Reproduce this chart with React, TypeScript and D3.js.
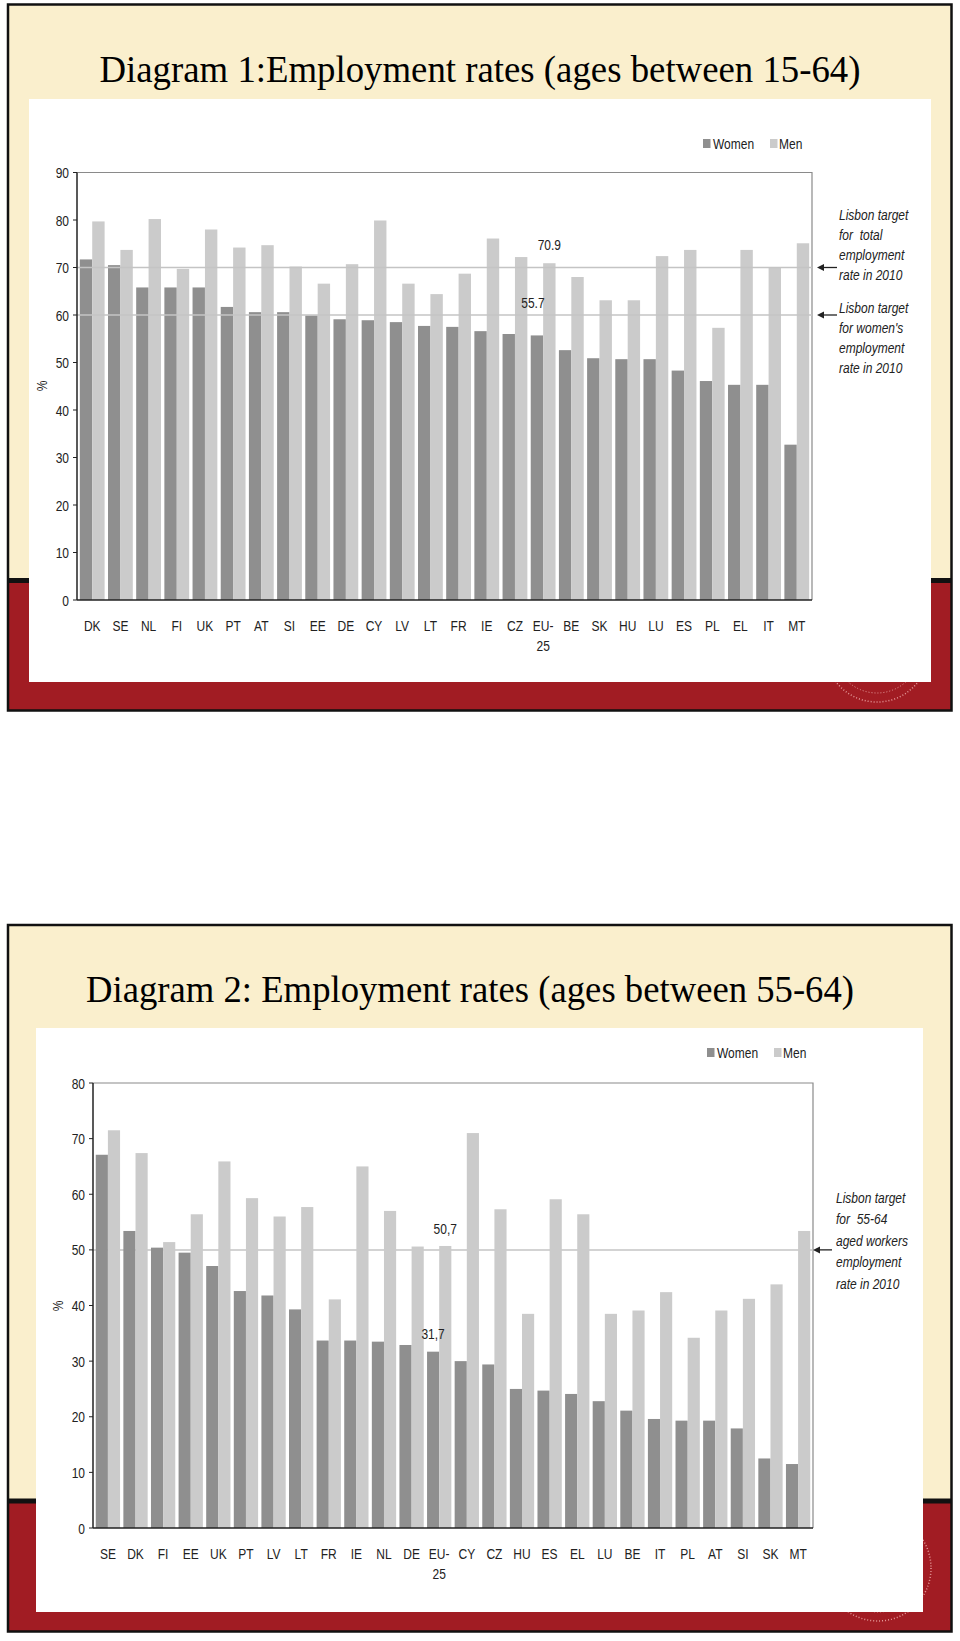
import * as d3 from "d3";
import type { ReactNode } from "react";

// ---- data: diagram 1 (ages 15-64) ----
const categories1 = ["DK", "SE", "NL", "FI", "UK", "PT", "AT", "SI", "EE", "DE", "CY", "LV", "LT", "FR", "IE", "CZ", "EU-25", "BE", "SK", "HU", "LU", "ES", "PL", "EL", "IT", "MT"];
const women1 = [71.7, 70.5, 65.8, 65.8, 65.8, 61.7, 60.6, 60.6, 59.9, 59.1, 58.9, 58.5, 57.7, 57.5, 56.6, 56.0, 55.7, 52.6, 50.9, 50.7, 50.7, 48.3, 46.1, 45.3, 45.3, 32.7];
const men1 = [79.7, 73.7, 80.2, 69.7, 78.0, 74.2, 74.7, 70.2, 66.6, 70.7, 79.9, 66.6, 64.4, 68.7, 76.1, 72.2, 70.9, 68.0, 63.1, 63.1, 72.4, 73.7, 57.3, 73.7, 70.1, 75.1];
const ticks1 = [0, 10, 20, 30, 40, 50, 60, 70, 80, 90];

// ---- data: diagram 2 (ages 55-64) ----
const categories2 = ["SE", "DK", "FI", "EE", "UK", "PT", "LV", "LT", "FR", "IE", "NL", "DE", "EU-25", "CY", "CZ", "HU", "ES", "EL", "LU", "BE", "IT", "PL", "AT", "SI", "SK", "MT"];
const women2 = [67.1, 53.4, 50.4, 49.5, 47.1, 42.6, 41.8, 39.3, 33.7, 33.7, 33.5, 32.9, 31.7, 30.0, 29.4, 25.0, 24.7, 24.1, 22.8, 21.1, 19.6, 19.3, 19.3, 17.9, 12.5, 11.5];
const men2 = [71.5, 67.4, 51.4, 56.4, 65.9, 59.3, 56.0, 57.7, 41.1, 65.0, 57.0, 50.6, 50.7, 71.0, 57.3, 38.5, 59.1, 56.4, 38.5, 39.1, 42.4, 34.2, 39.1, 41.2, 43.8, 53.4];
const ticks2 = [0, 10, 20, 30, 40, 50, 60, 70, 80];

const WOMEN = "#8f8f8f";
const MEN = "#cbcbcb";
const RED = "#a11c23";
const CREAM = "#faefcd";
const SANS = "'Liberation Sans', Arial, sans-serif";
const SERIF = "'Liberation Serif', 'Times New Roman', serif";
const SQUEEZE = 0.8; // fake the narrow Arial used in the original chart

interface Target {
  value: number;
  lines: string[];
  dy: number; // first baseline relative to target line
}

interface ValueLabel {
  category: string;
  series: "women" | "men";
  text: string;
  above: number;
  shift: number;
}

interface SlideCfg {
  title: string;
  titleX: number;
  titleY: number;
  titleLen: number;
  frame: { x: number; y: number; w: number; h: number; redTop: number };
  panel: { x: number; y: number; w: number; h: number };
  plot: { left: number; right: number; top: number; bottom: number };
  seal: { cx: number; cy: number; r: number };
  categories: string[];
  women: number[];
  men: number[];
  ticks: number[];
  targets: Target[];
  lineSpacing: number;
  arrow: { from: number; to: number; textX: number };
  linesOnTop: boolean;
  labels: ValueLabel[];
  legend: { x: number; y: number };
  percent: { x: number; y: number };
}

const slide1: SlideCfg = {
  title: "Diagram 1:Employment rates (ages between 15-64)",
  titleX: 480,
  titleY: 82,
  titleLen: 761,
  frame: { x: 8, y: 4.5, w: 943.5, h: 706, redTop: 580.5 },
  panel: { x: 29, y: 99, w: 902, h: 583 },
  plot: { left: 77, right: 812, top: 172.5, bottom: 600 },
  seal: { cx: 877, cy: 650, r: 52 },
  categories: categories1,
  women: women1,
  men: men1,
  ticks: ticks1,
  targets: [
    { value: 70, lines: ["Lisbon target", "for  total", "employment", "rate in 2010"], dy: -47.5 },
    { value: 60, lines: ["Lisbon target", "for women's", "employment", "rate in 2010"], dy: -2 },
  ],
  lineSpacing: 20,
  arrow: { from: 25, to: 5, textX: 27 },
  linesOnTop: true,
  labels: [
    { category: "EU-25", series: "men", text: "70.9", above: 13, shift: 0 },
    { category: "EU-25", series: "women", text: "55.7", above: 27, shift: -4 },
  ],
  legend: { x: 703, y: 139 },
  percent: { x: 42, y: 386 },
};

const slide2: SlideCfg = {
  title: "Diagram 2: Employment rates (ages between 55-64)",
  titleX: 470,
  titleY: 1002,
  titleLen: 768,
  frame: { x: 8, y: 925, w: 943.5, h: 706.5, redTop: 1501 },
  panel: { x: 36, y: 1028, w: 887, h: 584 },
  plot: { left: 93, right: 813, top: 1083, bottom: 1528 },
  seal: { cx: 878, cy: 1568, r: 53 },
  categories: categories2,
  women: women2,
  men: men2,
  ticks: ticks2,
  targets: [
    { value: 50, lines: ["Lisbon target", "for  55-64", "aged workers", "employment", "rate in 2010"], dy: -47 },
  ],
  lineSpacing: 21.5,
  arrow: { from: 19, to: 0, textX: 23 },
  linesOnTop: false,
  labels: [
    { category: "EU-25", series: "men", text: "50,7", above: 12, shift: 0 },
    { category: "EU-25", series: "women", text: "31,7", above: 13, shift: 0 },
  ],
  legend: { x: 707, y: 1048 },
  percent: { x: 58, y: 1306 },
};

// narrow text: translate to the anchor point, then squeeze horizontally
function NText({
  x,
  y,
  anchor = "start",
  italic = false,
  rotate = 0,
  children,
}: {
  x: number;
  y: number;
  anchor?: "start" | "middle" | "end";
  italic?: boolean;
  rotate?: number;
  children: ReactNode;
}) {
  return (
    <text
      transform={`translate(${x},${y}) rotate(${rotate}) scale(${SQUEEZE},1)`}
      textAnchor={anchor}
      fontFamily={SANS}
      fontSize={15}
      fontStyle={italic ? "italic" : "normal"}
      fill="#222"
      style={{ whiteSpace: "pre" }}
    >
      {children}
    </text>
  );
}

function Slide({ cfg }: { cfg: SlideCfg }) {
  const { frame, panel, plot, seal } = cfg;
  const x = d3
    .scaleBand<string>()
    .domain(cfg.categories)
    .range([plot.left, plot.right])
    .paddingInner(0.12)
    .paddingOuter(0.1);
  const y = d3
    .scaleLinear()
    .domain([0, cfg.ticks[cfg.ticks.length - 1]])
    .range([plot.bottom, plot.top]);
  const half = x.bandwidth() / 2;

  const targetLines = cfg.targets.map((t) => (
    <line
      key={"t" + t.value}
      x1={plot.left}
      x2={plot.right}
      y1={y(t.value)}
      y2={y(t.value)}
      stroke="#c4c4c4"
      strokeWidth={1.5}
    />
  ));

  return (
    <g>
      {/* slide frame */}
      <rect x={frame.x} y={frame.y} width={frame.w} height={frame.h} fill={CREAM} />
      <rect x={frame.x} y={frame.redTop} width={frame.w} height={frame.y + frame.h - frame.redTop} fill={RED} />
      <line x1={frame.x} x2={frame.x + frame.w} y1={frame.redTop} y2={frame.redTop} stroke="#111" strokeWidth={5} />
      <circle cx={seal.cx} cy={seal.cy} r={seal.r} fill="none" stroke="#e59a9a" strokeWidth={1.5} strokeDasharray="1 2" />
      <circle cx={seal.cx} cy={seal.cy} r={seal.r - 9} fill="none" stroke="#e59a9a" strokeWidth={1} strokeDasharray="1 2" />
      <rect x={frame.x} y={frame.y} width={frame.w} height={frame.h} fill="none" stroke="#111" strokeWidth={2.5} />
      <text
        x={cfg.titleX}
        y={cfg.titleY}
        textAnchor="middle"
        fontFamily={SERIF}
        fontSize={37}
        fill="#000"
        textLength={cfg.titleLen}
        lengthAdjust="spacingAndGlyphs"
      >
        {cfg.title}
      </text>
      <rect x={panel.x} y={panel.y} width={panel.w} height={panel.h} fill="#fff" />

      {/* plot border */}
      <polyline
        points={`${plot.left},${plot.top} ${plot.right},${plot.top} ${plot.right},${plot.bottom}`}
        fill="none"
        stroke="#8a8a8a"
        strokeWidth={1.2}
      />
      {!cfg.linesOnTop && targetLines}

      {/* bars */}
      {cfg.categories.map((c, i) => (
        <g key={c}>
          <rect x={x(c)!} y={y(cfg.women[i])} width={half} height={plot.bottom - y(cfg.women[i])} fill={WOMEN} />
          <rect x={x(c)! + half} y={y(cfg.men[i])} width={half} height={plot.bottom - y(cfg.men[i])} fill={MEN} />
        </g>
      ))}
      {cfg.linesOnTop && targetLines}

      {/* axes */}
      <line x1={plot.left} x2={plot.left} y1={plot.top} y2={plot.bottom} stroke="#222" strokeWidth={1.5} />
      <line x1={plot.left} x2={plot.right} y1={plot.bottom} y2={plot.bottom} stroke="#222" strokeWidth={1.5} />
      {cfg.ticks.map((t) => (
        <g key={t}>
          <line x1={plot.left - 4} x2={plot.left} y1={y(t)} y2={y(t)} stroke="#222" strokeWidth={1} />
          <NText x={plot.left - 8} y={y(t) + 5.5} anchor="end">
            {t}
          </NText>
        </g>
      ))}
      {cfg.categories.map((c) => {
        const cx = x(c)! + x.bandwidth() / 2;
        const parts = c.startsWith("EU-") ? ["EU-", c.slice(3)] : [c];
        return (
          <NText key={"l" + c} x={cx} y={plot.bottom + 30.5} anchor="middle">
            {parts.map((p, k) => (
              <tspan key={k} x={0} dy={k === 0 ? 0 : 20.5}>
                {p}
              </tspan>
            ))}
          </NText>
        );
      })}
      <NText x={cfg.percent.x + 5} y={cfg.percent.y} anchor="middle" rotate={-90}>
        %
      </NText>

      {/* value labels */}
      {cfg.labels.map((l) => {
        const i = cfg.categories.indexOf(l.category);
        const v = l.series === "women" ? cfg.women[i] : cfg.men[i];
        const lx = x(l.category)! + (l.series === "women" ? half / 2 : half * 1.5) + l.shift;
        return (
          <NText key={l.text} x={lx} y={y(v) - l.above} anchor="middle">
            {l.text}
          </NText>
        );
      })}

      {/* target annotations */}
      {cfg.targets.map((t) => {
        const ty = y(t.value);
        const x0 = plot.right + cfg.arrow.to;
        return (
          <g key={"a" + t.value}>
            <line x1={plot.right + cfg.arrow.from} x2={x0 + 5} y1={ty} y2={ty} stroke="#222" strokeWidth={1.3} />
            <path d={`M${x0},${ty} L${x0 + 7},${ty - 3.5} L${x0 + 7},${ty + 3.5} Z`} fill="#222" />
            <NText x={plot.right + cfg.arrow.textX} y={ty + t.dy} italic>
              {t.lines.map((s, k) => (
                <tspan key={k} x={0} dy={k === 0 ? 0 : cfg.lineSpacing}>
                  {s}
                </tspan>
              ))}
            </NText>
          </g>
        );
      })}

      {/* legend */}
      <g>
        <rect x={cfg.legend.x} y={cfg.legend.y} width={7.5} height={9} fill={WOMEN} />
        <NText x={cfg.legend.x + 10} y={cfg.legend.y + 9.5}>Women</NText>
        <rect x={cfg.legend.x + 67} y={cfg.legend.y} width={7.5} height={9} fill={MEN} />
        <NText x={cfg.legend.x + 76} y={cfg.legend.y + 9.5}>Men</NText>
      </g>
    </g>
  );
}

export default function App() {
  return (
    <svg
      width={960}
      height={1641}
      style={{ position: "absolute", left: 0, top: 0, display: "block", background: "#fff" }}
    >
      <rect width={960} height={1641} fill="#fff" />
      <Slide cfg={slide1} />
      <Slide cfg={slide2} />
    </svg>
  );
}
